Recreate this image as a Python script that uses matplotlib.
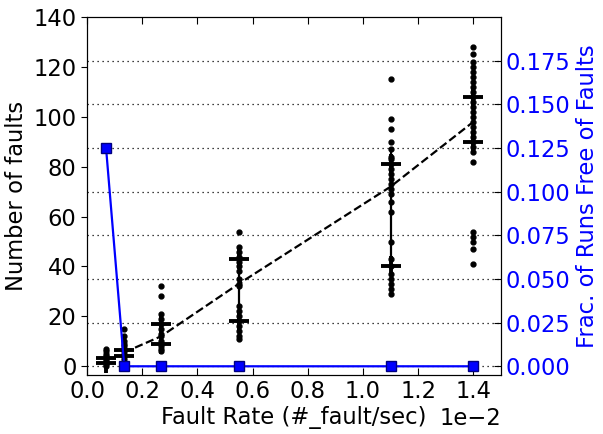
import matplotlib
matplotlib.use('Agg')
import matplotlib.pyplot as plt
import numpy as np

# ========== data (fault rate in #_fault/sec) ==========
rates = [0.069e-2, 0.135e-2, 0.268e-2, 0.549e-2, 1.10e-2, 1.40e-2]

faults_per_run = [
    [7, 6, 5, 4, 3, 2, 1, 0],
    [15, 12, 10, 9, 8, 7, 6, 5, 4, 3],
    [32, 28, 21, 19, 17, 15, 13, 12, 10, 9, 8, 7, 6],
    [54, 48, 46, 44, 42, 40, 38, 35, 33, 32, 24, 22, 20, 18, 16, 14, 12, 11],
    [115, 99, 95, 90, 87, 84, 83, 81, 79, 77, 75, 73, 71, 69, 66, 62, 50,
     43, 40, 37, 35, 33, 31, 29],
    [128, 125, 122, 120, 118, 116, 114, 112, 110, 108, 106, 104, 102, 100,
     98, 96, 94, 92, 90, 88, 86, 82, 54, 52, 50, 47, 41],
]

cross_hi = [3.5, 6.5, 17, 43, 81, 108]
cross_lo = [1.5, 4, 9, 18, 40, 90]
whisker_hi = [6, 10, 21, 48, 87, 112]
whisker_lo = [1, 3, 6, 11, 29, 86]

trend_rates = rates[1:]
trend_faults = [5.6, 12, 33, 72, 98]

frac_free = [0.125, 0.0, 0.0, 0.0, 0.0, 0.0]

# ========== plot ==========
plt.rcParams['font.family'] = 'DejaVu Sans'
plt.rcParams['font.size'] = 16.3

fig = plt.figure(figsize=(6.03, 4.34), dpi=100)
ax = fig.add_axes([0.1443, 0.1359, 0.6865, 0.8249])
ax2 = ax.twinx()

for r, vals in zip(rates, faults_per_run):
    ax.plot([r] * len(vals), vals, 'ko', ms=3.5, mec='k')
ax.vlines(rates, whisker_lo, whisker_hi, colors='k', lw=1.6)
ax.plot(rates, cross_hi, 'k+', ms=15, mew=2.8)
ax.plot(rates, cross_lo, 'k+', ms=15, mew=2.8)
ax.plot(trend_rates, trend_faults, 'k--', lw=1.6)

ax2.plot(rates, frac_free, 'b-', lw=1.6, marker='s', ms=6.5,
         mfc='b', mec='#000080', mew=1)

ax.set_xlim(0, 1.5e-2)
ax.set_ylim(-3.5, 140)
ax.set_yticks(np.arange(0, 141, 20))
ax.set_xticks(np.arange(0, 1.41e-2, 0.2e-2))
ax.ticklabel_format(axis='x', style='sci', scilimits=(0, 0))
ax.set_xlabel('Fault Rate (#_fault/sec)', labelpad=2)
ax.set_ylabel('Number of faults')
ax.tick_params(axis='x', direction='in', top=True, length=5)
ax.tick_params(axis='y', direction='out', length=4)

ax2.set_ylim(-0.005, 0.2)
ax2.set_yticks(np.arange(0, 0.176, 0.025))
ax2.yaxis.set_major_formatter(matplotlib.ticker.FormatStrFormatter('%.3f'))
ax2.tick_params(axis='y', direction='in', colors='b', length=5)
ax2.tick_params(axis='y', which='both', color='k')
ax2.set_ylabel('Frac. of Runs Free of Faults', color='b')
ax2.grid(axis='y', linestyle=(0, (1, 3)), color='k', lw=0.9)

fig.savefig('out.png', dpi=100)
